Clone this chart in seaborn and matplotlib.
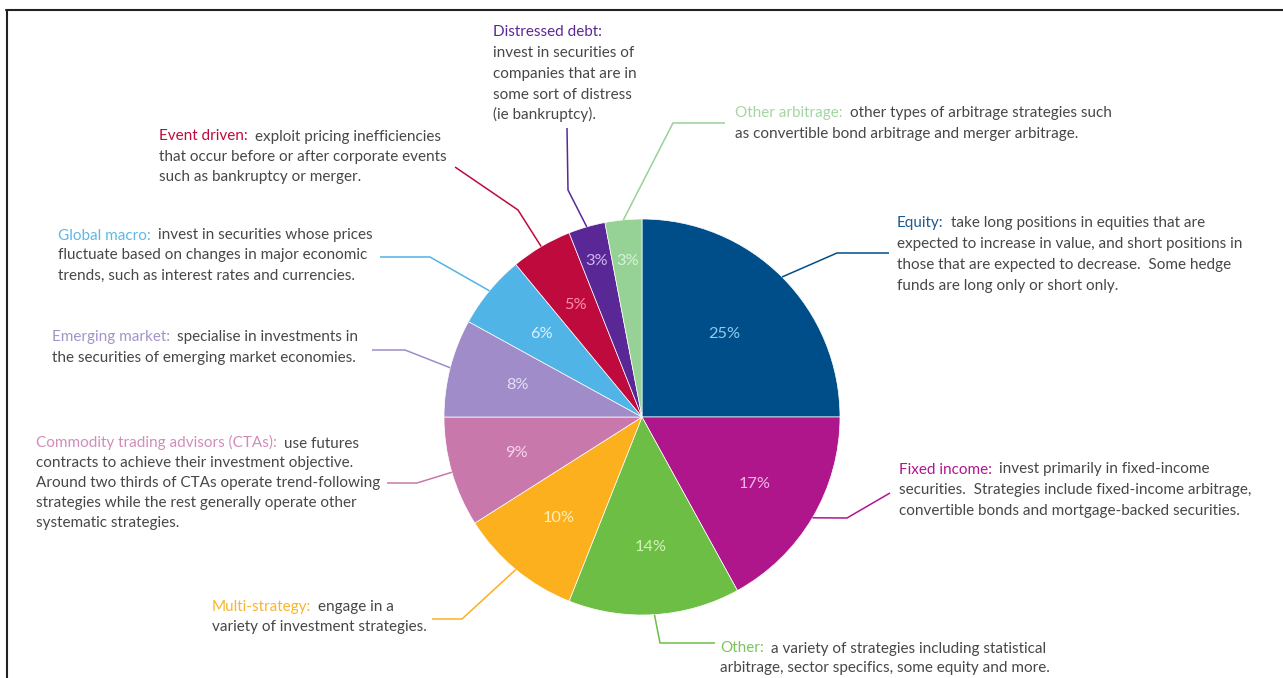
import matplotlib
matplotlib.use("Agg")
import matplotlib.pyplot as plt
import seaborn as sns
import numpy as np

# ---- data -------------------------------------------------------------
strategies = ["Equity", "Fixed income", "Other", "Multi-strategy",
              "Commodity trading advisors (CTAs)", "Emerging market",
              "Global macro", "Event driven", "Distressed debt",
              "Other arbitrage"]
shares = [25, 17, 14, 10, 9, 8, 6, 5, 3, 3]

headings = ["Equity:", "Fixed income:", "Other:", "Multi-strategy:",
            "Commodity trading advisors (CTAs):", "Emerging market:",
            "Global macro:", "Event driven:", "Distressed debt:",
            "Other arbitrage:"]

descriptions = [
    ["take long positions in equities that are",
     "expected to increase in value, and short positions in",
     "those that are expected to decrease.  Some hedge",
     "funds are long only or short only."],
    ["invest primarily in fixed-income",
     "securities.  Strategies include fixed-income arbitrage,",
     "convertible bonds and mortgage-backed securities."],
    ["a variety of strategies including statistical",
     "arbitrage, sector specifics, some equity and more."],
    ["engage in a",
     "variety of investment strategies."],
    ["use futures",
     "contracts to achieve their investment objective.",
     "Around two thirds of CTAs operate trend-following",
     "strategies while the rest generally operate other",
     "systematic strategies."],
    ["specialise in investments in",
     "the securities of emerging market economies."],
    ["invest in securities whose prices",
     "fluctuate based on changes in major economic",
     "trends, such as interest rates and currencies."],
    ["exploit pricing inefficiencies",
     "that occur before or after corporate events",
     "such as bankruptcy or merger."],
    ["",
     "invest in securities of",
     "companies that are in",
     "some sort of distress",
     "(ie bankruptcy)."],
    ["other types of arbitrage strategies such",
     "as convertible bond arbitrage and merger arbitrage."],
]

# ---- styling ----------------------------------------------------------
slice_colors = ["#004E89", "#B0168C", "#6DBE45", "#FDB01E", "#C878AA",
                "#9F8CC8", "#50B4E6", "#BE0A3C", "#5A2896", "#96D296"]
heading_colors = ["#1F5A91", "#B0168C", "#7CC35A", "#F7B62E", "#D08CBB",
                  "#A393CC", "#5DB8E6", "#BE0A3C", "#5A2896", "#A3D6A3"]
label_colors = ["#8ECBF2", "#F2B6E2", "#D2F2B8", "#FFF0B8", "#F8D6EC",
                "#E6DEF6", "#DDF2FF", "#FF8CB2", "#CDB8F2", "#D8F2D8"]
label_radius = [0.59, 0.66, 0.66, 0.66, 0.66, 0.65, 0.66, 0.66, 0.82, 0.79]

# text anchors: (left x, centre y of first line) in pixel units, y downwards
text_pos = [(897, 223), (899, 469), (720, 648), (212, 606), (36, 443),
            (52, 337), (58, 235), (159, 136), (493, 32), (735, 113)]
line_steps = [20.7, 20.5, 19.5, 20.5, 20.0, 20.5, 20.0, 20.5, 20.7, 20.5]

# leader line elbows (after the point on the pie edge), y downwards
leader_paths = [
    [(837, 253), (889, 253)],
    [(847, 518), (890, 493)],
    [(660, 643), (715, 643)],
    [(462, 619), (432, 619)],
    [(417, 483), (387, 483)],
    [(405, 350), (372, 350)],
    [(430, 257), (380, 257)],
    [(518, 210), (455, 167)],
    [(568, 190), (567, 128)],
    [(673, 123), (725, 123)],
]

sns.set_theme(style="white")
plt.rcParams["font.family"] = ["Lato", "DejaVu Sans"]

W, H = 1283, 678
cx, cy, R = 642, 417, 198
body_color = "#474747"
fs_text = 11.0
fs_pct = 11.8

fig = plt.figure(figsize=(W / 100, H / 100), dpi=100)
fig.patch.set_facecolor("white")
ax = fig.add_axes([0, 0, 1, 1])

palette = sns.color_palette(slice_colors)
wedges, _ = ax.pie(shares, colors=palette, startangle=90, counterclock=False,
                   center=(cx, H - cy), radius=R,
                   wedgeprops=dict(edgecolor="white", linewidth=0.5))
ax.set_xlim(0, W)
ax.set_ylim(0, H)
ax.set_aspect("equal")
ax.axis("off")

# percentage labels and leader lines, both placed from the wedge angles
for w, v, lc, f, col, path in zip(wedges, shares, label_colors, label_radius,
                                  slice_colors, leader_paths):
    mid = np.deg2rad((w.theta1 + w.theta2) / 2)
    ax.text(cx + f * R * np.cos(mid), H - cy + f * R * np.sin(mid), f"{v}%",
            ha="center", va="center", color=lc, fontsize=fs_pct)
    sx, sy = cx + R * np.cos(mid), cy - R * np.sin(mid)
    xs = [sx] + [p[0] for p in path]
    ys = [sy] + [p[1] for p in path]
    ax.plot(xs, [H - y for y in ys], color=col, lw=1.1,
            solid_capstyle="butt", clip_on=False)

# annotation blocks: coloured heading followed by grey description
renderer = fig.canvas.get_renderer()
for head, hcol, lines, (tx, ty), step in zip(headings, heading_colors,
                                             descriptions, text_pos,
                                             line_steps):
    base = H - (ty + 4.5)
    t = ax.text(tx, base, head, color=hcol, fontsize=fs_text,
                ha="left", va="baseline")
    bb = t.get_window_extent(renderer)
    if lines[0]:
        ax.text(bb.x1 + 7, base, lines[0], color=body_color, fontsize=fs_text,
                ha="left", va="baseline")
    for i, line in enumerate(lines[1:], start=1):
        ax.text(tx, base - i * step, line, color=body_color,
                fontsize=fs_text, ha="left", va="baseline")

# frame along the top and left edges
ax.plot([6, W], [H - 10, H - 10], color="#222222", lw=1.5, clip_on=False)
ax.plot([7, 7], [H - 10, 0], color="#222222", lw=1.5, clip_on=False)

fig.savefig("out.png", dpi=100)
